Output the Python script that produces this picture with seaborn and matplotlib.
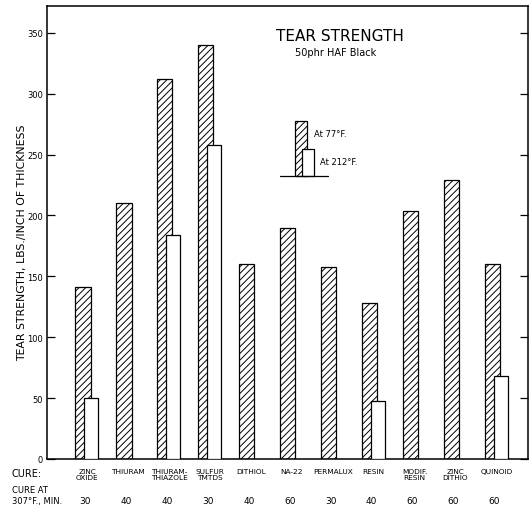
import numpy as np
import pandas as pd
import matplotlib
matplotlib.use("Agg")
import matplotlib.pyplot as plt
import seaborn as sns
from matplotlib.patches import Rectangle

# values
cures = ["ZINC\nOXIDE", "THIURAM", "THIURAM-\nTHIAZOLE", "SULFUR\nTMTDS", "DITHIOL",
         "NA-22", "PERMALUX", "RESIN", "MODIF.\nRESIN", "ZINC\nDITHIO", "QUINOID"]
cure_minutes = [30, 40, 40, 30, 40, 60, 30, 40, 60, 60, 60]
tear_77f = [141, 210, 312, 340, 160, 190, 158, 128, 204, 229, 160]
tear_212f = [50, np.nan, 184, 258, np.nan, np.nan, np.nan, 48, np.nan, np.nan, 68]
y_ticks = [0, 50, 100, 150, 200, 250, 300, 350]

sns.set_theme(style="white")
plt.rcParams["font.family"] = ["DejaVu Sans"]
plt.rcParams["text.color"] = "black"
plt.rcParams["hatch.linewidth"] = 0.7

W, H = 531, 510
fig = plt.figure(figsize=(W / 100, H / 100), dpi=100)
ax = fig.add_axes([47 / W, 50 / H, 481 / W, 453 / H])

pos = np.arange(len(cures))
df77 = pd.DataFrame({"pos": pos.astype(float), "tear": tear_77f})
df212 = pd.DataFrame({"pos": pos + 0.2, "tear": tear_212f}).dropna()

sns.barplot(data=df77, x="pos", y="tear", native_scale=True, width=0.37,
            color="white", edgecolor="black", linewidth=0.9, hatch="/////",
            saturation=1, errorbar=None, zorder=2, ax=ax)
sns.barplot(data=df212, x="pos", y="tear", native_scale=True, width=0.34,
            color="white", edgecolor="black", linewidth=0.9,
            saturation=1, errorbar=None, zorder=3, ax=ax)

ax.set_xlim(-0.88, 10.87)
ax.set_ylim(0, 372)
ax.set_xticks([])
ax.set_xlabel("")
ax.set_ylabel("")
ax.set_yticks(y_ticks)
ax.set_yticklabels([str(t) for t in y_ticks])
ax.tick_params(axis="y", left=True, right=True, direction="in", length=6,
               width=0.9, labelsize=6, pad=3, colors="black")
for sp in ax.spines.values():
    sp.set_color("black")
    sp.set_linewidth(1.1)

# title block
ax.text(0.608, 0.934, "TEAR STRENGTH", transform=ax.transAxes, ha="center",
        va="center", fontsize=11)
ax.text(0.6, 0.898, "50phr HAF Black", transform=ax.transAxes, ha="center",
        va="center", fontsize=7)

# hand-drawn legend
base = 232.5
ax.add_patch(Rectangle((5.18, base), 0.29, 277.7 - base, facecolor="white",
                       edgecolor="black", linewidth=0.9, hatch="/////", zorder=4))
ax.add_patch(Rectangle((5.35, base), 0.29, 254.7 - base, facecolor="white",
                       edgecolor="black", linewidth=0.9, zorder=5))
ax.plot([4.81, 5.98], [base, base], color="black", linewidth=0.9, zorder=5)
ax.text(5.65, 267, "At 77°F.", fontsize=6, va="center", ha="left")
ax.text(5.80, 244, "At 212°F.", fontsize=6, va="center", ha="left")

# category labels and cure times
xt = ax.get_xaxis_transform()
for p, name, mins in zip(pos, cures, cure_minutes):
    ax.text(p + 0.1, -0.019, name, transform=xt, ha="center", va="top",
            fontsize=5.3, linespacing=1.1)
    ax.text(p + 0.05, -0.0927, str(mins), transform=xt, ha="center",
            va="center", fontsize=6.5)

fig.text(12 / W, 1 - 474 / H, "CURE:", ha="left", va="center", fontsize=7)
fig.text(12 / W, 1 - 491 / H, "CURE AT", ha="left", va="center", fontsize=6)
fig.text(12 / W, 1 - 502 / H, "307°F., MIN.", ha="left", va="center", fontsize=6)
fig.text(22 / W, 1 - 243 / H, "TEAR STRENGTH, LBS./INCH OF THICKNESS",
         rotation=90, ha="center", va="center", fontsize=7.8)

fig.savefig("out.png", dpi=100)
